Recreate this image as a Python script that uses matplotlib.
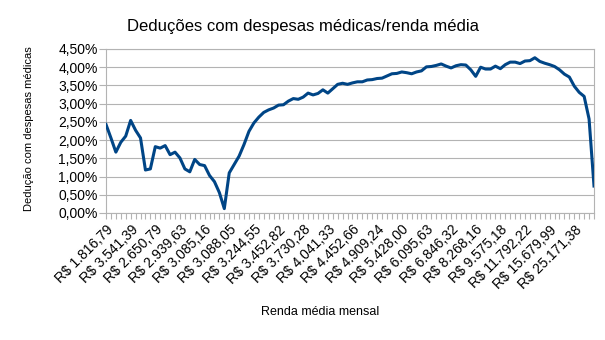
#!/usr/bin/env python3
"""Deduções com despesas médicas / renda média, line chart."""

import matplotlib
matplotlib.use("Agg")
import matplotlib.pyplot as plt
import numpy as np
from matplotlib.ticker import FuncFormatter, MultipleLocator

# Deduction share (%) per income group
DEDUCAO_PCT = [
    2.43, 2.06, 1.67, 1.94, 2.11, 2.54, 2.27, 2.06, 1.18, 1.21,
    1.82, 1.78, 1.85, 1.60, 1.67, 1.51, 1.21, 1.13, 1.47, 1.33,
    1.30, 1.03, 0.86, 0.56, 0.12, 1.10, 1.33, 1.56, 1.88, 2.24,
    2.47, 2.63, 2.76, 2.83, 2.88, 2.96, 2.97, 3.07, 3.14, 3.12,
    3.18, 3.29, 3.24, 3.28, 3.38, 3.29, 3.41, 3.53, 3.56, 3.53,
    3.57, 3.60, 3.60, 3.65, 3.66, 3.69, 3.70, 3.76, 3.82, 3.83,
    3.87, 3.85, 3.82, 3.87, 3.90, 4.01, 4.02, 4.05, 4.09, 4.03,
    3.98, 4.04, 4.07, 4.06, 3.93, 3.75, 4.00, 3.95, 3.95, 4.03,
    3.96, 4.07, 4.14, 4.14, 4.10, 4.17, 4.18, 4.26, 4.16, 4.11,
    4.07, 4.02, 3.93, 3.81, 3.73, 3.48, 3.31, 3.20, 2.58, 0.74,
]

# Only every fifth category carries a visible label
RENDA_LABELS = [
    "R$ 1.816,79", "R$ 3.541,39", "R$ 2.650,79", "R$ 2.939,63",
    "R$ 3.085,16", "R$ 3.088,05", "R$ 3.244,55", "R$ 3.452,82",
    "R$ 3.730,28", "R$ 4.041,33", "R$ 4.452,66", "R$ 4.909,24",
    "R$ 5.428,00", "R$ 6.095,63", "R$ 6.846,32", "R$ 8.268,16",
    "R$ 9.575,18", "R$ 11.792,22", "R$ 15.679,99", "R$ 25.171,38",
]
LABEL_STEP = 5

LINE_COLOR = "#004586"
GRID_COLOR = "#b3b3b3"


def main():
    plt.rcParams.update({
        "font.family": ["Liberation Sans", "DejaVu Sans"],
        "font.size": 10,
    })

    fig = plt.figure(figsize=(6.05, 3.40), dpi=100)
    ax = fig.add_axes([106 / 605, 1 - 213 / 340, 488 / 605, 164 / 340])

    x = np.arange(len(DEDUCAO_PCT))
    ax.plot(x, DEDUCAO_PCT, color=LINE_COLOR, linewidth=2.2,
            solid_joinstyle="round", zorder=3)

    ax.set_xlim(0, len(DEDUCAO_PCT) - 1)
    ax.set_ylim(0, 4.5)
    ax.yaxis.set_major_locator(MultipleLocator(0.5))
    ax.yaxis.set_major_formatter(
        FuncFormatter(lambda v, _: f"{v:.2f}%".replace(".", ",")))
    ax.grid(axis="y", color=GRID_COLOR, linewidth=0.8, zorder=0)

    # category ticks on every point, text on every fifth
    ax.set_xticks(x, minor=True)
    ax.set_xticks(x[::LABEL_STEP])
    ax.set_xticklabels(RENDA_LABELS, rotation=45, ha="right", va="top",
                       rotation_mode="anchor", fontsize=10)
    ax.tick_params(axis="x", which="both", length=4, width=0.8,
                   color=GRID_COLOR, pad=3)
    ax.tick_params(axis="y", length=5, width=0.8, color=GRID_COLOR,
                   labelsize=10, pad=1)

    for side in ["left", "right", "top", "bottom"]:
        ax.spines[side].set_color(GRID_COLOR)
        ax.spines[side].set_linewidth(0.8)

    fig.text(303 / 605, 1 - 27 / 340,
             "Deduções com despesas médicas/renda média",
             ha="center", va="center", fontsize=12)
    fig.text(29 / 605, 1 - 129 / 340, "Dedução com despesas médicas",
             rotation=90, ha="center", va="center", fontsize=8)
    fig.text(320 / 605, 1 - 312 / 340, "Renda média mensal",
             ha="center", va="center", fontsize=9)

    fig.savefig("out.png", dpi=100, facecolor="white")
    plt.close(fig)


if __name__ == "__main__":
    main()
